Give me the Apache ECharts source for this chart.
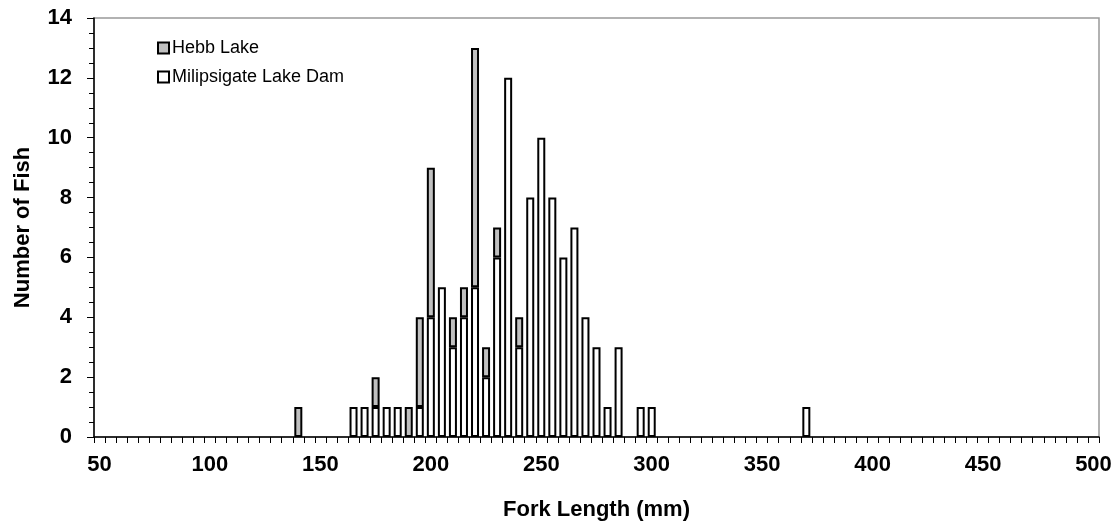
<!DOCTYPE html>
<html>
<head>
<meta charset="utf-8">
<script src="https://cdn.jsdelivr.net/npm/echarts@6/dist/echarts.min.js"></script>
<style>
  html, body { margin: 0; padding: 0; background: #fff; }
  #chart { width: 1120px; height: 531px; }
</style>
</head>
<body>
<div id="chart"></div>
<script>
// fork length bins (mm), 5 mm wide
let binStart = 50;
let binEnd = 500;
let binStep = 5;

// Hebb Lake counts by bin
let hebbLength = [140, 175, 190, 195, 200, 210, 215, 220, 225, 230, 240];
let hebbCount  = [1,   1,   1,   3,   5,   1,   1,   8,   1,   1,   1];

// Milipsigate Lake Dam counts by bin
let milLength = [165, 170, 175, 180, 185, 195, 200, 205, 210, 215, 220, 225, 230, 235, 240,
                 245, 250, 255, 260, 265, 270, 275, 280, 285, 295, 300, 370];
let milCount  = [1,   1,   1,   1,   1,   1,   4,   5,   3,   4,   5,   2,   6,   12,  3,
                 8,   10,  8,   6,   7,   4,   3,   1,   3,   1,   1,   1];

let categories = [];
for (let v = binStart; v <= binEnd; v += binStep) categories.push(String(v));

function toSeries(lengths, counts) {
    let out = categories.map(function () { return '-'; });
    lengths.forEach(function (len, i) {
        out[categories.indexOf(String(len))] = counts[i];
    });
    return out;
}

let font = 'Liberation Sans, Arial, sans-serif';
let myChart = echarts.init(document.getElementById('chart'));
let option = {
    animation: false,
    backgroundColor: '#fff',
    grid: {
        left: 94, right: 21, top: 18, bottom: 94,
        show: true, borderColor: '#999', borderWidth: 1.5
    },
    legend: {
        orient: 'vertical',
        left: 152, top: 34,
        itemWidth: 11, itemHeight: 11, itemGap: 11,
        icon: 'rect',
        data: ['Hebb Lake', 'Milipsigate Lake Dam'],
        textStyle: { fontFamily: font, fontSize: 18, color: '#000', padding: [0, 0, 0, -2] }
    },
    xAxis: {
        type: 'category',
        data: categories,
        boundaryGap: true,
        name: 'Fork Length (mm)',
        nameLocation: 'middle',
        nameGap: 62,
        nameTextStyle: { fontFamily: font, fontSize: 22, fontWeight: 'bold', color: '#000' },
        axisLine: { lineStyle: { color: '#000', width: 1.5 } },
        axisTick: { show: true, interval: 0, length: 6, alignWithLabel: false, lineStyle: { color: '#000' } },
        axisLabel: { interval: 9, margin: 17, fontFamily: font, fontSize: 22, fontWeight: 'bold', color: '#000' },
        splitLine: { show: false }
    },
    yAxis: {
        type: 'value',
        min: 0, max: 14, interval: 2,
        name: 'Number of Fish',
        nameLocation: 'middle',
        nameGap: 60,
        nameTextStyle: { fontFamily: font, fontSize: 22, fontWeight: 'bold', color: '#000' },
        axisLine: { show: true, lineStyle: { color: '#000', width: 1.5 } },
        axisTick: { show: true, length: 7, lineStyle: { color: '#000' } },
        minorTick: { show: true, splitNumber: 4, length: 5, lineStyle: { color: '#000' } },
        axisLabel: { margin: 22, fontFamily: font, fontSize: 22, fontWeight: 'bold', color: '#000' },
        splitLine: { show: false }
    },
    series: [
        {
            name: 'Milipsigate Lake Dam',
            type: 'bar',
            stack: 'fish',
            barWidth: 8,
            data: toSeries(milLength, milCount),
            itemStyle: { color: '#fff', borderColor: '#000', borderWidth: 2 }
        },
        {
            name: 'Hebb Lake',
            type: 'bar',
            stack: 'fish',
            barWidth: 8,
            data: toSeries(hebbLength, hebbCount),
            itemStyle: { color: '#c0c0c0', borderColor: '#000', borderWidth: 2 }
        }
    ]
};
myChart.setOption(option);
</script>
</body>
</html>
